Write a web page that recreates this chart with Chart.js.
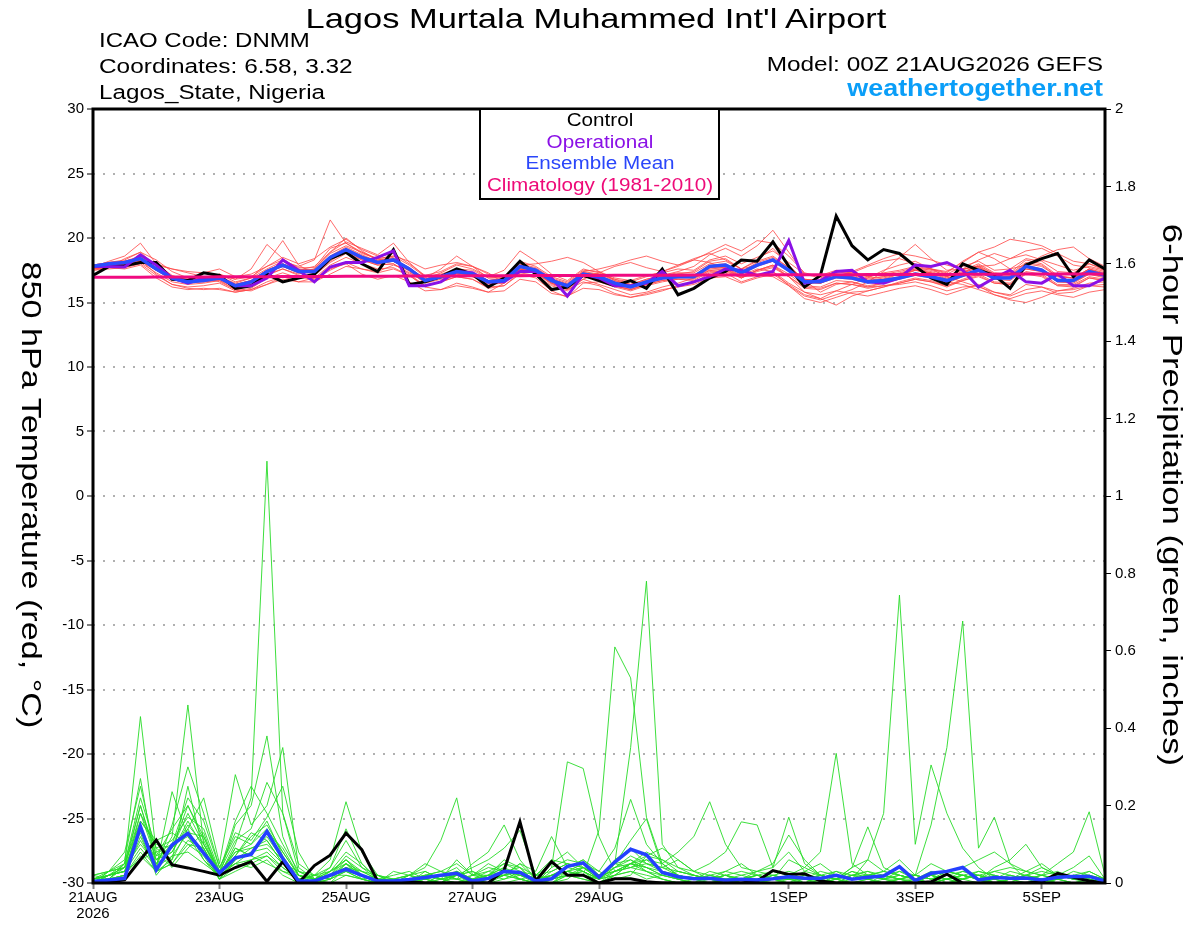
<!DOCTYPE html>
<html>
<head>
<meta charset="utf-8">
<title>Lagos Murtala Muhammed Int'l Airport - GEFS</title>
<script src="https://cdn.jsdelivr.net/npm/chart.js@4.4.1/dist/chart.umd.min.js"></script>
<style>
  body { margin: 0; background: #fff; }
  #wrap { position: relative; width: 1200px; height: 927px; font-family: "Liberation Sans", Arial, sans-serif; color: #000; }
  #c { position: absolute; left: 0; top: 0; }
  .t { position: absolute; white-space: nowrap; line-height: 1; }
  .l { transform-origin: 0 0; }
  .r { width: 1000px; text-align: right; transform-origin: 100% 0; }
  .m { width: 1000px; text-align: center; transform-origin: 50% 0; }
  .v { width: 800px; text-align: center; transform-origin: 50% 50%; }
  #legbox { position: absolute; left: 479px; top: 108px; width: 241px; height: 92px; box-sizing: border-box; border: 2px solid #000; background: #fff; }
</style>
</head>
<body>
<div id="wrap">
  <canvas id="c" width="1200" height="927"></canvas>

  <div class="t m" style="left:96px;top:4.6px;font-size:28px;transform:scaleX(1.23)">Lagos Murtala Muhammed Int'l Airport</div>
  <div class="t l" style="left:99px;top:30.1px;font-size:20px;transform:scaleX(1.2)">ICAO Code: DNMM</div>
  <div class="t l" style="left:99px;top:56.4px;font-size:20px;transform:scaleX(1.22)">Coordinates: 6.58, 3.32</div>
  <div class="t l" style="left:99px;top:82.4px;font-size:20px;transform:scaleX(1.21)">Lagos_State, Nigeria</div>
  <div class="t r" style="left:103px;top:53.8px;font-size:20px;transform:scaleX(1.22)">Model: 00Z 21AUG2026 GEFS</div>
  <div class="t r" style="left:103px;top:77.2px;font-size:23px;font-weight:bold;color:#0a9ef8;transform:scaleX(1.17)">weathertogether.net</div>

  <div id="legbox"></div>
  <div class="t m" style="left:99.5px;top:111.9px;font-size:17.5px;transform:scaleX(1.18)">Control</div>
  <div class="t m" style="left:99.5px;top:133.5px;font-size:17.5px;color:#8a10e6;transform:scaleX(1.18)">Operational</div>
  <div class="t m" style="left:99.5px;top:155.2px;font-size:17.5px;color:#2a46fa;transform:scaleX(1.18)">Ensemble Mean</div>
  <div class="t m" style="left:99.5px;top:176.5px;font-size:17.5px;color:#ee0a78;transform:scaleX(1.18)">Climatology (1981-2010)</div>

  <div class="t v" style="left:-369px;top:481px;font-size:28px;height:28px;transform:rotate(90deg) scaleX(1.22)">850 hPa Temperature (red, °C)</div>
  <div class="t v" style="left:772px;top:481px;font-size:28px;height:28px;transform:rotate(90deg) scaleX(1.24)">6-hour Precipitation (green, inches)</div>
</div>

<script>
// forecast hour of each 6-hourly step (00Z 21AUG2026 + h)
const hours = [0,6,12,18,24,30,36,42,48,54,60,66,72,78,84,90,96,102,108,114,120,126,132,138,144,150,156,162,168,174,180,186,192,198,204,210,216,222,228,234,240,246,252,258,264,270,276,282,288,294,300,306,312,318,324,330,336,342,348,354,360,366,372,378,384];

const xTickHours = [0, 48, 96, 144, 192, 264, 312, 360];
const xTickLabels = [['21AUG', '2026'], '23AUG', '25AUG', '27AUG', '29AUG', '1SEP', '3SEP', '5SEP'];

// 850 hPa temperature (C)
const ctrlTemp = [17.1,17.8,17.85,18.1,18.1,16.8,16.7,17.3,17.1,16.1,16.3,17.2,16.6,16.9,17.2,18.4,18.9,18.0,17.4,19.1,16.4,16.6,17.0,17.6,17.2,16.2,16.9,18.2,17.2,16.0,16.2,17.1,16.7,16.3,16.7,16.1,17.6,15.6,16.1,16.9,17.4,18.3,18.2,19.7,17.8,16.2,17.1,21.7,19.4,18.3,19.1,18.8,17.8,16.9,16.4,18.0,17.5,17.1,16.1,17.9,18.4,18.8,17.0,18.3,17.6];
const opTemp = [17.8,17.8,17.75,18.7,17.9,16.9,16.5,16.9,16.9,16.3,16.3,16.9,18.3,17.5,16.6,17.75,18.1,18.1,18.5,19.0,16.3,16.3,16.6,17.4,17.3,16.6,16.6,17.4,17.4,16.9,15.5,17.2,16.9,16.3,16.3,16.5,17.4,16.3,16.6,17.0,17.6,17.5,17.1,17.4,19.8,16.5,16.7,17.4,17.5,16.6,16.5,16.9,17.9,17.8,18.1,17.5,16.2,16.9,17.5,16.6,16.5,17.2,16.3,16.3,16.9];
const meanTemp = [17.8,18.0,18.1,18.4,17.6,16.9,16.6,16.7,16.9,16.3,16.6,17.4,17.9,17.4,17.4,18.5,19.1,18.5,18.1,18.3,17.6,16.7,17.0,17.4,17.2,16.6,16.7,17.8,17.5,16.7,16.3,17.2,17.0,16.5,16.2,16.6,16.9,17.0,17.0,17.8,17.9,17.3,17.9,18.3,17.5,16.6,16.6,17.0,16.9,16.6,16.7,16.9,17.2,17.0,16.7,17.1,17.5,16.9,16.9,17.8,17.5,16.7,16.7,17.4,17.1];
const climTemp = [16.95,16.95,16.96,16.96,16.97,16.97,16.98,16.98,16.99,16.99,17.0,17.0,17.01,17.01,17.02,17.02,17.03,17.03,17.04,17.04,17.05,17.05,17.06,17.06,17.07,17.07,17.08,17.08,17.09,17.09,17.1,17.1,17.1,17.11,17.11,17.12,17.12,17.12,17.13,17.13,17.14,17.14,17.14,17.15,17.15,17.15,17.16,17.16,17.16,17.17,17.17,17.17,17.18,17.18,17.18,17.19,17.19,17.19,17.2,17.2,17.2,17.2,17.21,17.21,17.21];

const tempMembers = [
  [17.9,18.1,18.3,18.9,17.8,17.0,16.8,16.9,17.2,16.6,16.9,17.6,18.2, 17.8,18.3,21.4,19.6,18.8,18.4,18.6,17.9,17.0,17.2,17.6,17.5,16.9, 17.0,18.2,17.8,17.0,16.6,17.5,17.4,16.9,16.7,17.1,17.3,17.6,17.5, 18.3,18.6,18.0,18.5,19.0,18.1,17.2,17.1,17.5,17.4,17.0,17.3,17.5, 17.8,17.6,17.2,17.8,18.2,17.5,17.6,18.4,18.2,17.4,17.3,18.0,17.6],
  [17.6,17.7,17.6,17.9,16.9,16.2,16.0,16.1,16.0,15.8,16.0,16.6,17.0, 16.6,16.9,17.6,18.0,17.2,16.8,17.1,16.6,15.9,16.0,16.5,16.2,15.8, 15.9,16.8,16.6,15.7,15.5,16.1,16.0,15.6,15.4,15.7,16.0,16.2,16.4, 16.9,17.0,16.5,16.9,17.2,16.4,15.6,15.3,15.9,15.7,15.5,15.8,16.1, 16.3,16.0,15.6,16.0,16.4,15.8,15.6,16.4,16.2,15.7,15.8,16.3,16.2],
  [17.7,18.2,18.6,19.6,18.0,17.1,16.7,16.6,16.7,16.2,16.4,17.2,17.6, 17.2,17.6,18.8,19.4,18.9,18.3,18.5,17.4,16.5,16.8,17.2,17.0,16.4, 16.5,17.6,17.3,16.4,16.0,17.0,16.8,16.3,16.0,16.4,16.9,17.2,17.4, 18.2,18.4,17.6,18.3,19.2,17.9,16.7,15.8,16.4,16.6,16.2,16.5,17.0, 17.5,17.3,16.8,17.3,17.9,17.2,17.3,18.3,18.0,17.1,16.9,17.6,17.0],
  [17.8,18.0,18.0,18.2,17.5,16.9,16.5,16.8,17.0,16.5,16.9,18.1,19.8, 17.9,17.2,18.2,19.0,18.3,17.9,18.0,17.3,16.6,16.9,17.3,17.1,16.5, 16.8,17.9,17.6,16.8,16.4,17.4,17.6,17.9,18.3,18.6,18.2,17.9,18.4, 18.8,18.3,17.6,17.9,18.4,17.5,16.8,16.5,17.0,17.3,17.8,18.2,18.4, 18.0,17.6,17.3,18.2,18.9,18.4,17.6,17.9,18.6,19.1,19.3,18.4,17.8],
  [17.9,18.0,18.2,18.5,17.7,17.0,16.7,16.8,17.0,16.4,16.7,17.5,18.0, 17.5,17.5,18.6,19.3,18.7,18.2,18.4,17.7,16.8,17.1,17.5,17.3,16.7, 16.8,17.9,17.6,16.8,16.4,17.3,17.1,16.6,16.3,16.7,17.1,17.4,17.8, 18.7,19.2,18.6,19.4,20.6,18.9,17.2,16.9,17.4,17.3,17.0,17.2,17.4, 17.7,17.5,17.1,17.5,18.0,17.3,17.2,18.1,17.9,17.0,16.9,17.6,17.2],
  [17.5,17.7,17.9,18.1,17.3,16.6,16.4,16.5,16.7,16.0,16.3,17.1,17.6, 17.1,17.1,18.1,18.8,18.3,17.9,18.0,17.2,16.3,16.6,17.0,16.8,16.1, 16.3,17.2,16.9,15.9,15.4,16.5,16.6,16.2,15.9,16.3,16.6,16.8,16.7, 17.4,17.5,16.9,17.5,17.9,17.0,15.8,15.3,14.8,15.5,15.9,16.2,16.5, 16.8,16.6,16.2,16.7,17.1,16.5,16.4,17.3,17.1,16.3,16.2,16.9,16.7],
  [17.8,17.9,18.0,18.3,17.5,16.8,16.5,16.6,16.8,16.2,16.5,17.3,17.8, 17.4,17.6,18.9,19.7,19.2,18.7,19.6,18.1,17.0,17.1,17.5,17.3,16.7, 16.8,17.8,17.5,16.7,16.3,16.8,16.4,16.0,15.6,15.8,16.2,16.5,16.9, 17.5,17.3,16.6,17.0,17.4,16.5,15.8,15.6,15.9,16.4,16.9,17.5,17.9, 18.2,17.6,17.0,16.6,16.2,15.8,15.5,16.0,16.2,15.9,16.0,16.3,16.4],
  [17.7,17.9,18.1,18.4,17.6,16.9,16.6,16.7,16.9,16.3,16.6,17.4,17.9, 17.4,17.3,18.4,19.0,18.4,18.0,18.2,17.5,16.6,16.9,17.3,17.1,16.5, 16.6,17.7,17.4,16.6,16.2,17.1,16.9,16.4,16.1,16.5,16.8,17.0,17.0, 17.7,17.8,17.2,17.8,18.2,17.4,16.5,16.5,16.9,16.8,16.5,16.8,17.2, 17.6,17.6,17.4,18.1,18.9,19.3,19.9,19.7,19.4,18.8,18.2,18.0,17.5],
  [17.6,17.8,17.9,18.2,17.9,17.6,17.3,17.0,16.6,16.0,15.9,16.4,17.0, 17.0,16.8,17.5,18.1,17.6,17.3,17.6,17.1,16.2,16.0,16.3,16.1,15.8, 16.5,17.6,17.3,16.5,16.1,17.0,16.8,16.3,16.0,16.4,16.7,16.8,16.8, 17.5,17.6,17.0,17.5,17.8,17.0,16.2,16.1,16.5,16.4,16.2,16.3,16.4, 16.6,16.3,15.9,16.2,16.3,15.6,15.2,15.0,15.4,15.9,16.1,16.5,16.6],
  [17.9,18.1,18.2,18.6,17.7,17.0,16.7,16.8,17.0,16.4,16.7,17.5,18.0, 17.5,17.5,18.6,19.2,18.6,18.2,18.3,17.7,16.8,17.3,17.9,17.6,17.0, 17.5,19.0,18.2,17.2,16.7,17.6,17.3,16.8,16.4,16.8,17.1,17.2,17.1, 17.9,18.0,17.4,18.1,18.5,17.7,16.8,16.7,17.2,17.0,16.7,16.8,17.0, 17.3,17.1,16.8,17.3,17.7,17.1,17.0,17.9,17.6,16.8,16.8,17.5,17.2],
  [17.8,18.0,18.1,18.3,17.5,16.8,16.6,16.7,16.9,16.3,16.6,17.4,17.9, 17.4,17.4,18.5,19.1,18.5,18.1,18.2,17.5,16.7,17.0,17.3,17.1,16.6, 16.7,17.8,17.5,16.8,16.4,17.3,17.2,16.8,16.6,17.0,17.4,17.8,18.3, 18.9,19.5,19.0,19.8,19.6,18.6,17.3,17.0,17.4,17.2,16.9,17.0,17.2, 17.5,17.3,16.9,17.3,17.7,17.0,17.0,17.8,17.6,16.8,16.7,17.4,17.1],
  [17.7,17.9,18.0,18.3,17.2,16.4,16.1,16.0,16.1,15.8,16.0,16.4,16.8, 16.6,16.6,17.2,17.8,17.6,17.4,17.9,17.5,16.6,16.9,17.3,17.1,16.5, 16.6,17.7,17.4,16.5,16.0,16.6,16.3,15.7,15.4,15.6,15.9,16.3,16.5, 17.3,17.4,16.9,17.5,17.9,17.2,16.3,16.2,16.7,16.6,16.3,16.5,16.8, 17.1,16.9,16.5,17.0,17.4,16.8,16.7,17.6,17.4,16.6,16.5,17.2,16.9],
  [17.9,17.7,18.4,18.9,18.3,17.4,16.9,16.6,17.1,16.8,17.0,17.8,18.3, 17.7,17.7,19.2,19.6,18.9,18.4,18.6,18.2,17.6,17.9,18.1,17.8,17.2, 16.9,18.0,17.7,16.9,16.5,17.4,17.2,16.7,16.4,16.8,17.1,17.3,17.3, 18.0,18.2,17.6,18.2,18.6,17.7,16.8,16.7,17.2,17.1,16.8,17.0,17.3, 17.6,17.4,17.0,17.4,17.8,17.2,17.1,18.0,17.8,17.0,16.9,17.6,17.3],
  [17.5,17.6,17.7,18.0,17.1,16.4,16.2,16.3,16.5,15.9,16.1,16.9,17.3, 16.9,16.9,17.9,18.5,18.0,17.6,17.7,17.1,16.3,16.6,17.0,16.8,16.2, 16.3,17.3,17.1,16.3,15.9,16.8,17.3,17.8,18.1,17.7,17.4,17.9,18.3, 18.1,17.6,16.9,17.4,17.7,17.0,16.1,16.0,16.5,16.4,16.1,16.3,16.5, 16.8,16.6,16.3,16.7,17.0,16.5,16.4,17.2,17.0,16.3,16.3,16.9,16.7],
  [17.8,18.0,18.1,18.3,17.6,16.9,16.7,16.9,17.2,16.8,17.6,19.5,18.4, 17.6,17.5,18.5,19.0,18.5,18.1,18.2,17.6,16.9,17.6,18.6,17.8,16.9, 16.9,17.8,17.5,16.7,16.3,17.2,17.0,16.5,16.2,16.6,16.9,17.1,17.1, 17.8,17.9,17.3,17.9,18.2,17.5,16.6,16.5,17.0,17.4,17.9,18.4,18.8, 18.6,18.3,17.9,17.6,17.8,17.9,18.4,18.7,18.3,17.9,17.5,17.8,17.5],
  [17.6,17.8,18.0,18.3,17.5,16.8,16.6,16.7,16.9,16.3,16.6,17.4,17.8, 17.3,17.3,18.4,19.0,18.4,18.0,18.2,17.5,16.6,16.9,17.2,17.0,16.5, 16.6,17.6,17.4,16.6,16.2,17.1,16.9,16.4,16.2,16.6,16.9,17.1,17.0, 17.7,17.7,17.0,17.1,17.0,16.3,15.5,15.2,15.6,16.0,16.6,17.4,18.5, 19.5,18.4,17.5,17.6,17.8,17.0,16.9,17.6,17.4,16.6,16.6,17.2,17.0],
  [17.8,17.9,18.0,18.4,17.6,16.9,16.6,16.7,16.9,16.3,16.6,17.3,17.8, 17.3,17.4,18.5,19.1,18.5,18.1,18.3,17.6,16.7,17.0,17.4,17.2,16.7, 16.9,17.9,18.0,18.2,18.5,18.1,17.4,16.7,16.3,16.6,16.9,17.0,17.0, 17.7,17.9,17.3,17.9,18.3,17.5,16.6,16.5,17.0,16.9,16.6,16.7,16.9, 17.2,17.0,16.6,16.4,16.0,15.6,15.3,15.7,15.9,15.6,15.4,15.8,16.0],
  [17.9,18.1,18.2,18.5,17.7,17.0,16.7,16.8,17.0,16.4,16.7,17.5,18.0, 17.5,17.5,18.5,19.1,18.6,18.2,18.3,17.6,16.8,17.1,17.5,17.3,16.7, 16.8,17.8,17.5,16.8,16.4,17.3,17.1,16.6,16.3,16.7,17.0,17.2,17.1, 17.8,17.9,17.4,18.0,18.3,17.5,16.6,16.6,17.1,17.0,16.7,16.9,17.2, 17.5,17.3,17.0,17.6,18.3,18.8,18.4,19.0,19.2,18.6,17.9,17.7,17.4],
  [17.7,17.9,18.0,18.3,18.0,17.6,17.4,17.3,17.6,17.0,17.2,17.8,18.5, 18.0,18.4,19.3,19.9,19.1,18.6,18.8,18.0,17.1,17.4,18.0,17.8,17.3, 16.5,17.6,17.3,16.5,16.1,17.0,16.8,16.3,16.0,16.4,16.7,16.9,16.9, 17.6,17.7,17.1,17.6,17.4,16.3,15.3,15.0,15.4,15.8,15.9,16.2,16.6, 16.9,16.7,16.3,16.8,17.2,16.6,16.5,17.4,17.2,16.4,16.4,17.0,16.8],
  [17.8,18.0,18.1,18.4,17.6,16.9,16.6,16.7,16.9,16.3,16.6,17.4,17.9, 17.5,17.8,18.9,20.0,19.0,18.3,18.4,17.6,16.7,17.0,17.4,17.2,16.6, 16.7,17.8,17.5,16.7,16.3,17.2,17.0,16.5,16.2,16.6,16.9,17.1,17.0, 17.8,17.9,17.3,17.9,18.3,17.5,16.6,16.6,17.0,16.9,16.6,16.7,16.9, 17.2,17.0,16.7,17.1,17.5,16.9,16.9,17.8,17.5,16.7,16.7,17.4,17.1]
];

// 6-hour precipitation (inches)
const ctrlPrecip = [0,0.003,0.008,0.06,0.111,0.047,0.039,0.03,0.02,0.04,0.055,0.004,0.055,0,0.045,0.072,0.129,0.086,0.005,0.003,0.003,0,0,0,0,0,0.033,0.158,0.005,0.055,0.02,0.02,0,0.011,0.011,0.003,0,0,0,0,0,0,0.005,0.032,0.022,0.024,0.005,0,0,0,0,0,0,0.003,0.023,0,0,0,0,0,0.003,0.025,0.015,0.005,0];
const meanPrecip = [0.004,0.008,0.012,0.146,0.034,0.098,0.128,0.077,0.026,0.065,0.074,0.133,0.063,0.005,0.005,0.02,0.036,0.02,0.005,0.005,0.009,0.014,0.02,0.025,0.005,0.012,0.03,0.027,0.005,0.011,0.043,0.052,0.015,0.054,0.087,0.073,0.027,0.016,0.011,0.012,0.007,0.01,0.008,0.011,0.016,0.012,0.012,0.02,0.01,0.015,0.018,0.042,0.006,0.025,0.03,0.04,0.008,0.014,0.012,0.013,0.008,0.015,0.017,0.017,0.005];

const precipMembers = [
  [0,.01,.05,.43,.08,.10,.12,.06,.02,.10,.22,1.09,.18, .03,.01,0,.02,.01,0,0,0,0,.01,.02,0,0, 0,.01,0,0,.02,.01,0,.03,.05,.04,.02,.01,0, 0,0,0,.01,.02,.01,0,0,.01,0,0,.01,0, 0,0,.01,.02,.01,0,0,0,.01,0,0,0,0],
  [0,.02,.03,.15,.05,.12,.46,.10,.03,.05,.08,.12,.06, .01,0,.01,.05,.02,0,0,.01,0,0,.03,.01,0, .02,.03,0,0,.01,.04,.01,.05,.06,.03,.01,0,0, 0,.01,0,0,.01,0,0,.02,0,0,.01,0,0, .01,0,0,0,0,.01,0,0,0,.01,.02,.01,0],
  [.02,.03,.06,.27,.04,.15,.30,.18,.04,.12,.10,.14,.08, .02,.01,.03,.08,.05,.01,0,0,.01,.02,.04,0,.01, .03,.02,0,.04,.06,.05,.02,.05,.35,.78,.10,.04,.02, .01,0,0,0,.01,.02,0,0,.01,0,0,.02,.03, .01,0,0,.01,0,0,0,0,.01,0,0,0,0],
  [0,.01,.04,.18,.06,.08,.16,.09,.02,.15,.20,.38,.12, .02,0,0,.04,.03,.01,0,.02,0,.01,.06,.02,.03, .05,.04,0,.02,.03,.02,.137,.61,.53,.17,.05,.02,.01, 0,0,0,.01,0,0,0,.01,0,.02,.01,0,.01, 0,.02,.01,0,0,0,.01,0,0,0,0,0,0],
  [.01,.02,.03,.16,.10,.09,.14,.22,.05,.28,.15,.20,.35, .04,.01,.02,.06,.02,0,0,0,.02,.03,.01,0,.02, .04,.01,0,.03,.05,.04,.01,.06,.09,.05,.04,.06,.03, .01,.02,0,0,.03,.02,.01,0,.02,.01,.06,.18,.744, .10,.305,.18,.09,.04,.01,0,0,0,.01,0,0,0],
  [0,.03,.08,.25,.07,.14,.20,.12,.03,.16,.25,.18,.10, .03,.02,.01,.03,.01,0,.01,0,0,.02,.02,.01,0, .01,.02,.01,0,.02,.03,0,.02,.05,.08,.06,.03,.02, .01,0,.01,.02,.01,0,.02,.01,0,0,.01,0,.01, .02,.15,.35,.677,.09,.17,.05,.01,0,.01,0,.01,0],
  [0,.01,.02,.12,.03,.06,.25,.08,.01,.06,.09,.11,.05, 0,.02,.06,.21,.08,.02,0,0,.01,0,.03,.01,.02, .06,.04,0,.04,.313,.296,.12,.03,.04,.03,.01,0,0, 0,.01,0,0,0,.01,0,0,.01,0,0,0,.01, 0,0,.01,0,0,.01,0,.02,.01,0,0,0,0],
  [.01,.02,.04,.10,.05,.08,.15,.10,.02,.07,.12,.15,.08, .02,0,.02,.04,.02,.01,.01,.02,.04,.11,.22,.02,.02, .05,.03,0,.02,.04,.06,.02,.04,.06,.04,.02,.01,0, .02,.03,.05,.02,.01,.06,.04,.08,.335,.05,.02,.02,.01, 0,.02,0,.01,.02,0,.01,0,0,.02,.01,0,.01],
  [0,.01,.05,.22,.09,.11,.17,.14,.03,.11,.14,.26,.18, .05,.02,.01,.05,.01,0,0,.01,.02,.01,0,.02,.05, .03,.01,.02,.05,.08,.04,.01,.03,.05,.06,.05,.02,.01, 0,0,.01,0,.01,0,.01,0,0,.02,.02,.03,.06, .02,.05,.03,.02,.01,0,.01,.02,.01,0,0,0,0],
  [.01,.03,.04,.14,.06,.10,.22,.16,.04,.13,.11,.17,.25, .08,.01,.02,.03,.02,0,0,.02,.01,0,.02,.03,.01, .02,.05,.01,0,.03,.05,.03,.09,.216,.10,.05,.08,.12, .21,.10,.04,.03,.02,.01,.01,.02,.03,.01,.02,.01,0, .01,0,.01,.02,.01,.03,.04,.03,.05,.02,.01,.02,0],
  [0,.02,.03,.09,.04,.07,.13,.12,.02,.08,.09,.10,.06, .02,.01,.03,.06,.03,.02,0,.01,0,.02,.01,.05,.08, .15,.06,.01,.02,.03,.02,.01,.02,.05,.07,.06,.04,.03, .05,.08,.158,.15,.04,.17,.05,.02,.01,.04,.06,.03,.02, .01,.02,.01,.02,.03,.02,.01,.02,.04,.02,.01,.01,0],
  [.02,.01,.02,.08,.03,.05,.11,.09,.01,.06,.08,.09,.05, .01,0,.02,.04,.02,.01,.02,.03,.01,0,.02,.04,.06, .09,.136,.02,.06,.05,.03,.01,.04,.07,.05,.04,.03,.02, .01,.02,.01,.03,.05,.124,.06,.02,.01,.04,.145,.04,.02, .01,.02,.03,.04,.06,.08,.05,.03,.02,.03,.01,.02,.01],
  [0,.02,.04,.20,.06,.09,.20,.11,.02,.09,.07,.13,.09, .02,.01,.04,.14,.05,.01,0,0,.02,.03,.05,.02,.01, .02,.03,.01,.01,.02,.04,.02,.05,.04,.06,.03,.01,0, .01,.02,.03,.02,.01,.02,.04,.02,.01,.03,.02,.01,.01, .02,.01,.02,.03,.02,.03,.02,.01,.02,.05,.08,.184,.02],
  [.01,.02,.03,.11,.04,.236,.12,.08,.02,.05,.06,.08,.04, .01,.02,.03,.05,.02,0,.01,.02,.05,.03,.02,.01,.02, .03,.04,.02,.01,.03,.04,.02,.03,.05,.04,.03,.02,.01, .02,.01,.02,.03,.04,.08,.03,.02,.01,.02,.03,.01,.02, .01,.02,.03,.02,.01,.04,.06,.10,.04,.02,.01,.03,.01],
  [.02,.03,.05,.20,.07,.09,.18,.10,.03,.08,.10,.16,.07, .01,.02,.04,.11,.04,.01,0,.01,.02,.01,0,.01,.03, .02,.05,.03,.12,.04,.03,.01,.05,.11,.166,.04,.02,.01, .02,.01,.01,.02,.01,.01,.03,.05,.02,.01,.02,.01,.03, .02,.01,.02,.01,.03,.02,.01,.02,.03,.02,.04,.07,.01],
  [0,.01,.02,.07,.03,.05,.10,.07,.01,.04,.06,.07,.03, .01,0,.01,.03,.01,0,.03,.02,.01,.02,.03,.01,.02, .04,.02,.01,.02,.03,.02,.01,.02,.03,.02,.01,0,.01, .03,.02,.01,0,.02,.01,.01,.03,.02,.01,.02,.03,.02, .01,.03,.02,.01,.02,.01,.03,.02,.01,.02,.01,.02,0],
  [.01,.02,.03,.06,.08,.04,.09,.13,.02,.05,.04,.06,.02, 0,.01,.02,.02,.01,.02,.01,0,.03,.01,.02,.03,.01, .02,.01,0,.02,.04,.06,.03,.01,.02,.07,.09,.06,.03, .02,.01,0,.01,.02,.03,.02,.01,.03,.02,.01,.02,.01, .02,.01,.03,.02,.01,.02,.01,.03,.02,.01,.02,.01,0],
  [0,.03,.04,.13,.02,.07,.08,.05,.02,.09,.07,.05,.03, .02,.01,.02,.05,.03,.01,0,.01,.02,.01,.01,.02,.04, .03,.02,.01,.01,.02,.03,.01,.04,.05,.03,.02,.01,.02, .01,.03,.02,.01,.01,.02,.01,.02,.01,.03,.01,.02,.01, .01,.02,.01,.03,.02,.01,.02,.01,.02,.01,.03,.02,.01],
  [.01,.01,.02,.18,.09,.06,.14,.06,.01,.03,.05,.07,.04, .01,0,.03,.06,.02,.01,.01,0,.01,.02,.01,0,.01, .02,.01,0,.01,.02,.01,0,.02,.03,.01,.02,.03,.02, .01,0,.01,.02,.01,.01,.02,.01,0,.01,.02,.01,.02, .01,0,.01,.02,.01,0,.01,.02,.01,.01,0,.01,0],
  [0,.02,.05,.16,.11,.13,.10,.09,.01,.07,.13,.11,.05, .03,.01,.02,.07,.04,.02,.01,.02,.03,.01,.02,.01,.02, .01,.03,.02,.03,.05,.04,.02,.03,.04,.05,.03,.02,.01, .01,.02,.01,.02,.03,.02,.01,.02,.01,.02,.03,.02,.01, .02,.01,.02,.01,.02,.01,.02,.01,.02,.01,.02,.03,.01]
];

const FONT = '"Liberation Sans", Arial, sans-serif';

const datasets = [];
tempMembers.forEach(m => {
  datasets.push({ data: m, yAxisID: 'y', borderColor: 'rgba(255,70,70,0.8)', borderWidth: 1, order: 10 });
});
precipMembers.forEach(m => {
  datasets.push({ data: m, yAxisID: 'y2', borderColor: 'rgba(40,220,40,0.9)', borderWidth: 1, order: 11 });
});
datasets.push({ data: ctrlPrecip, yAxisID: 'y2', borderColor: '#000', borderWidth: 3, order: 6 });
datasets.push({ data: meanPrecip, yAxisID: 'y2', borderColor: '#2440ff', borderWidth: 3.5, order: 5 });
datasets.push({ data: ctrlTemp, yAxisID: 'y', borderColor: '#000', borderWidth: 3, order: 4 });
datasets.push({ data: opTemp, yAxisID: 'y', borderColor: '#8a10e6', borderWidth: 3, order: 3 });
datasets.push({ data: meanTemp, yAxisID: 'y', borderColor: '#2a4dff', borderWidth: 3.5, order: 2 });
datasets.push({ data: climTemp, yAxisID: 'y', borderColor: '#f00a80', borderWidth: 3, order: 1 });

// thick frame round the plot area
const frame = {
  id: 'frame',
  afterDatasetsDraw(chart) {
    const { ctx, chartArea: a } = chart;
    ctx.save();
    ctx.strokeStyle = '#000';
    ctx.lineWidth = 3;
    ctx.strokeRect(a.left, a.top, a.right - a.left, a.bottom - a.top);
    ctx.restore();
  }
};

new Chart(document.getElementById('c'), {
  type: 'line',
  data: { labels: hours, datasets: datasets },
  options: {
    responsive: false,
    animation: false,
    devicePixelRatio: 1,
    layout: { padding: { top: 109, bottom: 0, left: 0, right: 0 } },
    elements: { point: { radius: 0 }, line: { tension: 0 } },
    plugins: { legend: { display: false }, tooltip: { enabled: false } },
    scales: {
      x: {
        type: 'linear', min: 0, max: 384,
        afterBuildTicks: s => { s.ticks = xTickHours.map(v => ({ value: v })); },
        afterFit: s => { s.height = 44; },
        ticks: {
          autoSkip: false, maxRotation: 0, padding: 1, color: '#000',
          font: { family: FONT, size: 15, lineHeight: 1.05 },
          callback: v => xTickLabels[xTickHours.indexOf(v)]
        },
        grid: { drawOnChartArea: false, tickLength: 6, tickColor: '#808080', tickWidth: 2 },
        border: { display: false }
      },
      y: {
        type: 'linear', position: 'left', min: -30, max: 30,
        afterFit: s => { s.width = 93; },
        ticks: { stepSize: 5, padding: 3, color: '#000', font: { family: FONT, size: 15 } },
        grid: { color: '#b0b0b0', lineWidth: 2, tickLength: 6, tickColor: '#000', tickWidth: 1 },
        border: { display: false, dash: [2, 8] }
      },
      y2: {
        type: 'linear', position: 'right', min: 0, max: 2,
        afterFit: s => { s.width = 95; },
        ticks: { stepSize: 0.2, padding: 4, color: '#000', font: { family: FONT, size: 15 },
          callback: v => String(+v.toFixed(1)) },
        grid: { drawOnChartArea: false, tickLength: 6, tickColor: '#000', tickWidth: 1 },
        border: { display: false }
      }
    }
  },
  plugins: [frame]
});
</script>
</body>
</html>
